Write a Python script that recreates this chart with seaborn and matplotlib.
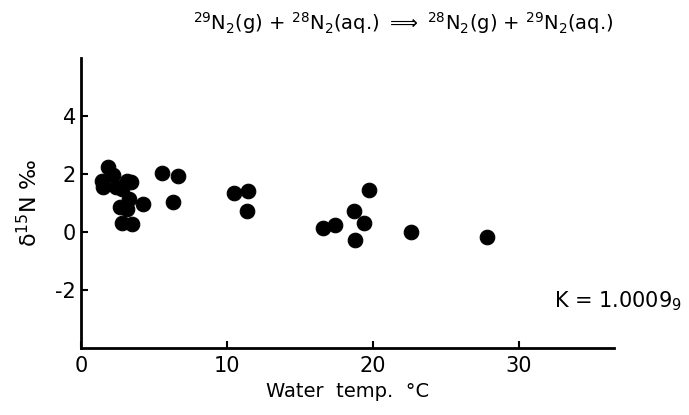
import matplotlib
matplotlib.use("Agg")
import matplotlib.pyplot as plt
import seaborn as sns
import pandas as pd

water_temp = [1.87, 2.17, 1.42, 1.53, 2.40, 2.79, 3.17, 3.40, 3.31, 2.67, 3.17, 4.27,
              2.79, 3.47, 5.53, 6.62, 6.28,
              10.48, 11.46, 11.35, 19.73, 18.70, 19.40, 16.60, 17.40, 18.77, 22.58, 27.80]
delta15N = [2.23, 1.98, 1.77, 1.55, 1.54, 1.48, 1.77, 1.71, 1.14, 0.87, 0.79, 0.97,
            0.30, 0.28, 2.02, 1.94, 1.02,
            1.33, 1.42, 0.73, 1.46, 0.73, 0.31, 0.13, 0.25, -0.26, -0.01, -0.16]

y_ticks = [-2, 0, 2, 4]
x_ticks = [0, 10, 20, 30]

df = pd.DataFrame({"temp": water_temp, "d15N": delta15N})

sns.set_style("ticks")
plt.rcParams["font.family"] = ["DejaVu Sans"]
plt.rcParams["axes.unicode_minus"] = False
plt.rcParams["text.color"] = "black"
plt.rcParams["axes.labelcolor"] = "black"

fig = plt.figure(figsize=(6.89, 4.15), dpi=100)
ax = fig.add_axes([0.1176, 0.1614, 0.7734, 0.6986])

sns.scatterplot(data=df, x="temp", y="d15N", ax=ax, s=110, color="black",
                edgecolor="black", linewidth=0.8, zorder=3)

ax.set_xlim(0, 36.5)
ax.set_ylim(-4, 6)
ax.set_xticks(x_ticks)
ax.set_yticks(y_ticks)
ax.tick_params(direction="in", length=5, width=1.5, labelsize=15, colors="black")
ax.tick_params(axis="x", pad=6)
for side in ["top", "right"]:
    ax.spines[side].set_visible(False)
for side in ["left", "bottom"]:
    ax.spines[side].set_linewidth(2)
    ax.spines[side].set_color("black")

ax.set_xlabel("Water  temp.  °C", fontsize=14, labelpad=4, color="black")
ax.set_ylabel("δ$^{15}$N ‰", fontsize=16, labelpad=10, color="black")

fig.text(0.585, 0.945,
         r"$^{29}$N$_2$(g) + $^{28}$N$_2$(aq.) $\Longrightarrow$ $^{28}$N$_2$(g) + $^{29}$N$_2$(aq.)",
         ha="center", va="center", fontsize=14, color="black")
fig.text(0.99, 0.275, r"K = 1.0009$_9$", ha="right", va="center", fontsize=15, color="black")

fig.savefig("out.png", dpi=100)
